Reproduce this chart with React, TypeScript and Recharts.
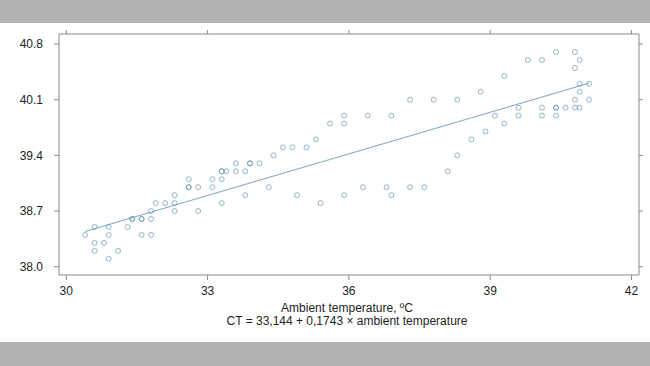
import React from "react";
import { ScatterChart, Scatter, XAxis, YAxis, ReferenceLine } from "recharts";

const ambientTemps: number[] = [
  30.4, 30.6, 30.9, 30.9, 30.6, 30.8, 30.6, 31.1, 30.9, 31.3,
  31.4, 31.4, 31.6, 31.6, 31.8, 31.6, 31.8, 31.8, 31.9, 32.1,
  32.3, 32.3, 32.3, 32.6, 32.6, 32.6, 32.8, 32.8, 33.1, 33.1,
  33.3, 33.3, 33.3, 33.4, 33.3, 33.6, 33.6, 33.8, 33.9, 33.9,
  34.1, 33.8, 34.3, 34.4, 34.6, 34.8, 35.1, 35.3, 35.6, 34.9,
  35.4, 35.9, 35.9, 36.4, 35.9, 36.3, 36.9, 37.3, 37.8, 38.3,
  38.6, 38.3, 38.1, 37.6, 37.3, 36.8, 36.9, 38.8, 38.9, 39.1,
  39.3, 39.3, 39.6, 39.6, 39.8, 40.1, 40.4, 40.1, 40.1, 40.4,
  40.4, 40.4, 40.6, 40.8, 40.9, 40.8, 40.9, 40.9, 41.1, 41.1,
  40.8, 40.9, 40.8,
];

const coreTemps: number[] = [
  38.4, 38.5, 38.5, 38.4, 38.3, 38.3, 38.2, 38.2, 38.1, 38.5,
  38.6, 38.6, 38.6, 38.6, 38.6, 38.4, 38.4, 38.7, 38.8, 38.8,
  38.8, 38.9, 38.7, 39.1, 39.0, 39.0, 39.0, 38.7, 39.1, 39.0,
  39.1, 39.2, 39.2, 39.2, 38.8, 39.3, 39.2, 39.2, 39.3, 39.3,
  39.3, 38.9, 39.0, 39.4, 39.5, 39.5, 39.5, 39.6, 39.8, 38.9,
  38.8, 39.9, 39.8, 39.9, 38.9, 39.0, 39.9, 40.1, 40.1, 40.1,
  39.6, 39.4, 39.2, 39.0, 39.0, 39.0, 38.9, 40.2, 39.7, 39.9,
  39.8, 40.4, 40.0, 39.9, 40.6, 40.6, 40.7, 40.0, 39.9, 40.0,
  40.0, 39.9, 40.0, 40.0, 40.0, 40.1, 40.2, 40.3, 40.3, 40.1,
  40.7, 40.6, 40.5,
];

const xTicks: number[] = [30, 33, 36, 39, 42];
const yTicks: number[] = [38.0, 38.7, 39.4, 40.1, 40.8];

const intercept = 33.144;
const slope = 0.1743;
const fitStart = 30.4;
const fitEnd = 41.1;

const xTitle = "Ambient temperature, ºC";
const equation = "CT = 33,144 + 0,1743 × ambient temperature";

const points = ambientTemps.map((x, i) => ({ x, y: coreTemps[i] }));

const FONT = "'Liberation Sans', Arial, sans-serif";
const AXIS = "#8a8a8a";
const MARK = "#5f8fae";

const Ring = (props: any) => {
  const { cx, cy } = props;
  if (cx == null || cy == null) return null;
  return (
    <circle
      cx={cx}
      cy={cy}
      r={2.5}
      fill="none"
      stroke={MARK}
      strokeOpacity={0.72}
      strokeWidth={0.9}
    />
  );
};

export default function App() {
  const tickStyle = { fill: "#1e1e1e", fontSize: 12, fontFamily: FONT };
  return (
    <div
      style={{
        position: "absolute",
        left: 0,
        top: 0,
        width: 650,
        height: 366,
        background: "#ffffff",
        overflow: "hidden",
      }}
    >
      <div style={{ position: "absolute", left: 0, top: 0, width: 650, height: 23, background: "#b2b2b2" }} />
      <div style={{ position: "absolute", left: 0, top: 342, width: 650, height: 24, background: "#b2b2b2" }} />
      <div style={{ position: "absolute", left: 0, top: 0 }}>
        <ScatterChart
          width={650}
          height={366}
          margin={{ top: 4, right: 0, bottom: 61, left: 0 }}
        >
          <XAxis
            xAxisId="bottom"
            type="number"
            dataKey="x"
            orientation="bottom"
            domain={[29.845, 42.16]}
            ticks={xTicks}
            allowDataOverflow
            height={30}
            tickSize={5}
            tickMargin={6}
            stroke={AXIS}
            tick={tickStyle}
            tickLine={{ stroke: AXIS }}
          />
          <XAxis
            xAxisId="top"
            type="number"
            dataKey="x"
            orientation="top"
            domain={[29.845, 42.16]}
            ticks={xTicks}
            allowDataOverflow
            height={30}
            tickSize={4}
            stroke={AXIS}
            tickFormatter={() => ""}
            tickLine={{ stroke: AXIS }}
          />
          <YAxis
            yAxisId="left"
            type="number"
            dataKey="y"
            orientation="left"
            domain={[37.896, 40.926]}
            ticks={yTicks}
            allowDataOverflow
            width={59}
            tickSize={5}
            tickMargin={11}
            stroke={AXIS}
            tick={tickStyle}
            tickLine={{ stroke: AXIS }}
            tickFormatter={(v: number) => v.toFixed(1)}
          />
          <YAxis
            yAxisId="right"
            type="number"
            dataKey="y"
            orientation="right"
            domain={[37.896, 40.926]}
            ticks={yTicks}
            allowDataOverflow
            width={11}
            tickSize={4}
            stroke={AXIS}
            tickFormatter={() => ""}
            tickLine={{ stroke: AXIS }}
          />
          <Scatter
            xAxisId="top"
            yAxisId="right"
            data={points}
            shape={() => <g />}
            isAnimationActive={false}
          />
          <ReferenceLine
            xAxisId="bottom"
            yAxisId="left"
            segment={[
              { x: fitStart, y: intercept + slope * fitStart },
              { x: fitEnd, y: intercept + slope * fitEnd },
            ]}
            stroke="#7aa6c2"
            strokeWidth={1}
            ifOverflow="visible"
          />
          <Scatter
            xAxisId="bottom"
            yAxisId="left"
            data={points}
            shape={Ring}
            isAnimationActive={false}
          />
        </ScatterChart>
      </div>
      <div
        style={{
          position: "absolute",
          left: 147,
          width: 400,
          top: 302,
          textAlign: "center",
          fontFamily: FONT,
          fontSize: 12,
          lineHeight: "13px",
          color: "#1e1e1e",
        }}
      >
        <div>{xTitle}</div>
        <div>{equation}</div>
      </div>
    </div>
  );
}
